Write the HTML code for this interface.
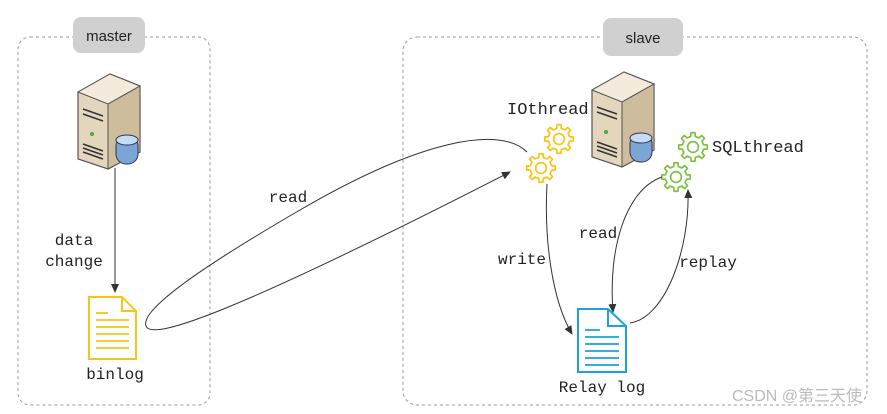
<!DOCTYPE html>
<html><head><meta charset="utf-8"><style>body{margin:0;background:#fff}svg{display:block}</style></head><body>
<svg width="887" height="414" xmlns="http://www.w3.org/2000/svg" font-family="Liberation Mono, monospace">
<defs>
<marker id="a" markerWidth="10" markerHeight="10" refX="8" refY="5" orient="auto" markerUnits="userSpaceOnUse"><path d="M0,1 L9,5 L0,9 Z" fill="#333"/></marker>
<g id="srv">
<path d="M0,18 L32,0 L62,12 L62,78 L30,95 L0,85 Z" fill="#e3d6bd" stroke="#555" stroke-width="1.2"/>
<path d="M0,18 L32,0 L62,12 L30,30 Z" fill="#f3ecdc" stroke="#555" stroke-width="1"/>
<path d="M30,30 L62,12 L62,78 L30,95 Z" fill="#cdbd9c" stroke="#555" stroke-width="1"/>
<path d="M5,35 L25,42 M5,40 L25,47 M5,70 L25,77 M5,74 L25,81 M5,78 L25,85" stroke="#333" stroke-width="1.5"/>
<circle cx="14" cy="60" r="2" fill="#4a4"/>
<rect x="38" y="62" width="22" height="28" rx="10" fill="#7aa6d6" stroke="#335" stroke-width="1"/>
<ellipse cx="49" cy="66" rx="11" ry="5" fill="#c6dcf2" stroke="#335" stroke-width="1"/>
</g>
<g id="gear" fill="#fff" stroke-width="1.4" stroke-linejoin="round" transform="scale(1.2)">
<polygon points="8.80,-1.87 11.88,-1.67 11.88,1.67 8.80,1.87 7.55,4.90 9.58,7.22 7.22,9.58 4.90,7.55 1.87,8.80 1.67,11.88 -1.67,11.88 -1.87,8.80 -4.90,7.55 -7.22,9.58 -9.58,7.22 -7.55,4.90 -8.80,1.87 -11.88,1.67 -11.88,-1.67 -8.80,-1.87 -7.55,-4.90 -9.58,-7.22 -7.22,-9.58 -4.90,-7.55 -1.87,-8.80 -1.67,-11.88 1.67,-11.88 1.87,-8.80 4.90,-7.55 7.22,-9.58 9.58,-7.22 7.55,-4.90"/>
<circle r="4.5" fill="none"/>
</g>
</defs>
<rect x="18" y="37" width="192" height="368" rx="12" fill="none" stroke="#999" stroke-dasharray="3 3"/>
<rect x="403" y="37" width="464" height="368" rx="14" fill="none" stroke="#999" stroke-dasharray="3 3"/>
<rect x="73" y="17" width="72" height="36" rx="8" fill="#d0d0d0"/>
<text x="109" y="41" font-family="Liberation Sans, sans-serif" font-size="15" text-anchor="middle" fill="#222">master</text>
<rect x="603" y="18" width="80" height="38" rx="8" fill="#d0d0d0"/>
<text x="643" y="43" font-family="Liberation Sans, sans-serif" font-size="15" text-anchor="middle" fill="#222">slave</text>
<use href="#srv" x="78" y="74"/>
<use href="#srv" x="592" y="72"/>
<path d="M89,297 L122,297 L136,311 L136,359 L89,359 Z" fill="#fff" stroke="#f5c518" stroke-width="2"/>
<path d="M122,297 L122,311 L136,311" fill="none" stroke="#f5c518" stroke-width="2"/>
<path d="M96,313 H108 M96,320 H129 M96,327 H129 M96,334 H129 M96,341 H129 M96,348 H129" stroke="#f5c518" stroke-width="1.8"/>
<text x="115" y="379" font-size="16" text-anchor="middle" fill="#222">binlog</text>
<path d="M578,309 L608,309 L626,326 L626,372 L578,372 Z" fill="#fff" stroke="#1ba1e2" stroke-width="2"/>
<path d="M608,309 L608,326 L626,326" fill="none" stroke="#1ba1e2" stroke-width="2"/>
<path d="M585,330 H600 M585,337 H619 M585,344 H619 M585,351 H619 M585,358 H619 M585,365 H619" stroke="#1ba1e2" stroke-width="1.8"/>
<text x="602" y="392" font-size="16" text-anchor="middle" fill="#222">Relay log</text>
<use href="#gear" x="559" y="139" stroke="#f5c518"/>
<use href="#gear" x="541" y="168" stroke="#f5c518"/>
<use href="#gear" x="693" y="147" stroke="#7cc242"/>
<use href="#gear" x="676" y="177" stroke="#7cc242"/>
<text x="507" y="114" font-size="17" fill="#222">IOthread</text>
<text x="712" y="152" font-size="17" fill="#222">SQLthread</text>
<line x1="115" y1="168" x2="115" y2="292" stroke="#333" stroke-width="1" marker-end="url(#a)"/>
<text x="74" y="245" font-size="16" text-anchor="middle" fill="#222">data</text>
<text x="74" y="266" font-size="16" text-anchor="middle" fill="#222">change</text>
<path d="M527,152 C500,125 420,140 300,210 C200,268 140,310 146,326 C152,342 240,310 510,172" fill="none" stroke="#333" stroke-width="1" marker-end="url(#a)"/>
<text x="288" y="202" font-size="16" text-anchor="middle" fill="#222">read</text>
<path d="M547,184 C544,240 552,300 572,334" fill="none" stroke="#333" stroke-width="1" marker-end="url(#a)"/>
<text x="522" y="264" font-size="16" text-anchor="middle" fill="#222">write</text>
<path d="M662,177 C625,190 608,250 613,312" fill="none" stroke="#333" stroke-width="1" marker-end="url(#a)"/>
<text x="598" y="238" font-size="16" text-anchor="middle" fill="#222">read</text>
<path d="M630,323 C665,318 690,250 688,190" fill="none" stroke="#333" stroke-width="1" marker-end="url(#a)"/>
<text x="708" y="267" font-size="16" text-anchor="middle" fill="#222">replay</text>
<text x="862" y="401" font-family="Liberation Sans, Noto Sans CJK SC, sans-serif" font-size="16" text-anchor="end" fill="#bbb">CSDN @第三天使</text>
</svg>
</body></html>
